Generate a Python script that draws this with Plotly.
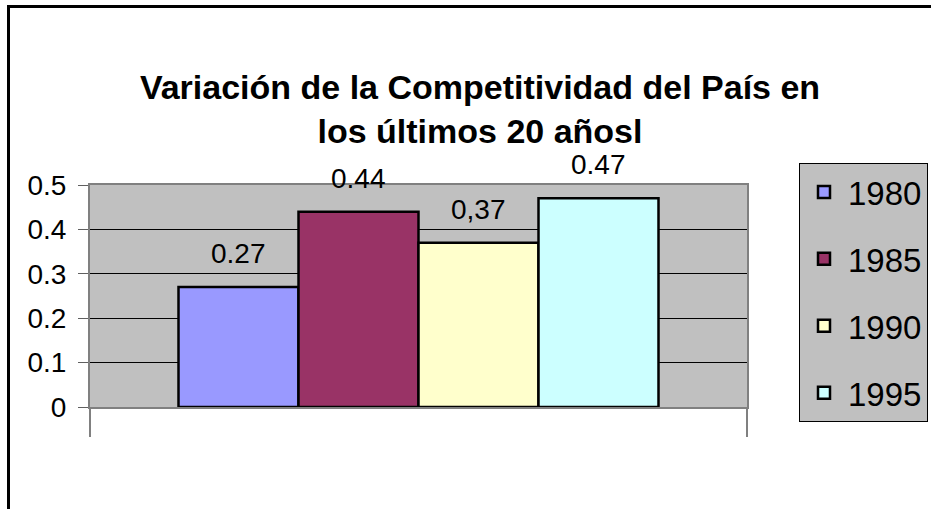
import plotly.graph_objects as go

years = ["1980", "1985", "1990", "1995"]
values = [0.27, 0.44, 0.37, 0.47]
labels = ["0.27", "0.44", "0,37", "0.47"]
colors = ["#9999FF", "#993366", "#FFFFCC", "#CCFFFF"]
yticks = [0, 0.1, 0.2, 0.3, 0.4, 0.5]
ytick_text = ["0", "0.1", "0.2", "0.3", "0.4", "0.5"]

FONT = "Liberation Sans, Arial, sans-serif"
W, H = 931, 509
ML, MR, MT, MB = 90, 184, 185, 102
pw = W - ML - MR
ph = H - MT - MB
x_lo, x_hi = -1.2375, 4.2375

fig = go.Figure()
for i, (yr, v, c) in enumerate(zip(years, values, colors)):
    fig.add_trace(go.Bar(
        x=[i], y=[v], name=yr, width=1,
        marker=dict(color=c, line=dict(color="black", width=2.5)),
        legendgroup=yr,
    ))
    fig.add_annotation(x=i, y=v, text=labels[i], showarrow=False,
                       yanchor="bottom", yshift=16,
                       font=dict(family=FONT, size=28, color="black"))

fig.update_layout(
    width=W, height=H,
    margin=dict(l=ML, r=MR, t=MT, b=MB, autoexpand=False),
    paper_bgcolor="white", plot_bgcolor="#C0C0C0",
    barmode="overlay", showlegend=True,
    title=dict(text="<b>Variación de la Competitividad del País en<br>los últimos 20 añosl</b>",
               x=480 / W, xanchor="center", y=1 - 99 / H, yanchor="top",
               font=dict(family=FONT, size=34, color="black")),
    legend=dict(x=(799 - ML) / pw, y=1 + (MT - 163) / ph, xanchor="left", yanchor="top",
                bgcolor="#C0C0C0", bordercolor="black", borderwidth=1,
                font=dict(family=FONT, size=33, color="black"),
                tracegroupgap=21, traceorder="grouped", maxheight=1000,
                itemwidth=38),
    xaxis=dict(range=[x_lo, x_hi], showgrid=False, zeroline=False,
               showline=True, linecolor="#808080", linewidth=2, mirror=True,
               tickmode="array", tickvals=[x_lo, x_hi], ticktext=["", ""],
               ticks="outside", ticklen=28, tickcolor="#808080", tickwidth=2),
    yaxis=dict(range=[0, 0.5], tickmode="array", tickvals=yticks, ticktext=ytick_text,
               showgrid=True, gridcolor="black", gridwidth=1, zeroline=False,
               showline=True, linecolor="#808080", linewidth=2, mirror=True,
               ticks="outside", ticklen=10, tickcolor="#606060", tickwidth=1,
               ticklabelstandoff=6,
               tickfont=dict(family=FONT, size=28, color="black")),
)

fig.add_shape(type="rect", xref="paper", yref="paper",
              x0=(8.5 - ML) / pw, x1=(945 - ML) / pw,
              y0=1 - (525 - MT) / ph, y1=1 + (MT - 6.5) / ph,
              line=dict(color="black", width=3), fillcolor="rgba(0,0,0,0)")

fig.write_html("out.html", config={"displayModeBar": False},
               post_script="document.body.style.margin='0';document.body.style.overflow='hidden';")
